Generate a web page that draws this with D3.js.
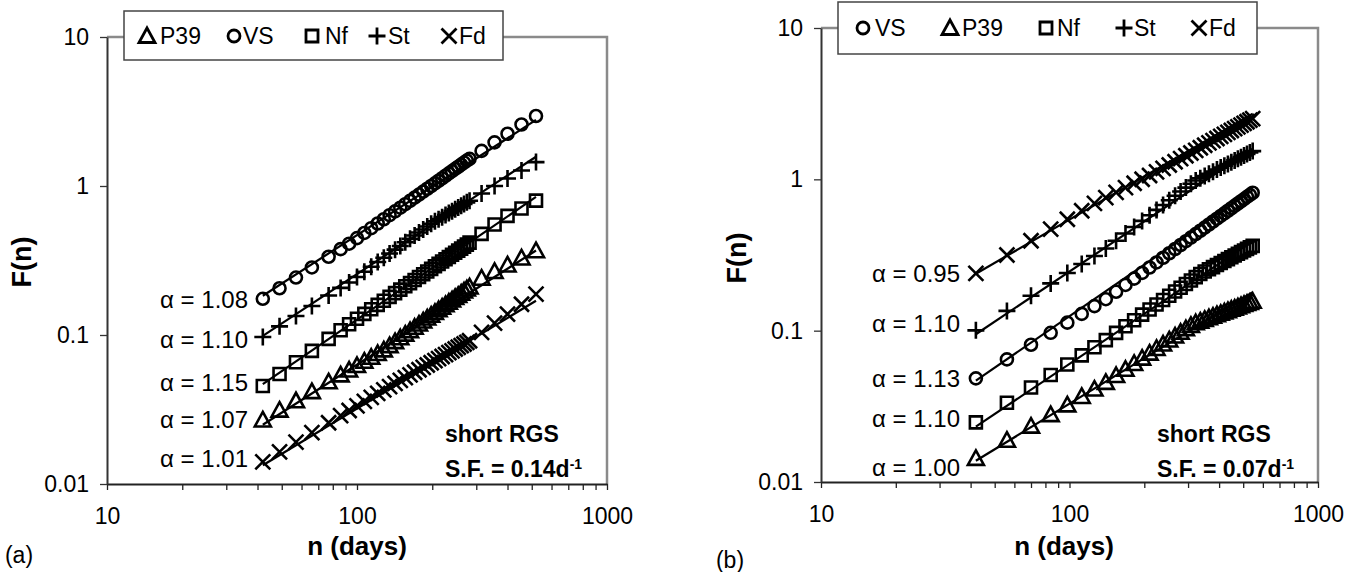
<!DOCTYPE html>
<html>
<head>
<meta charset="utf-8">
<script src="https://cdn.jsdelivr.net/npm/d3@7"></script>
<style>
  html, body { margin: 0; padding: 0; background: #fff; }
  svg { display: block; }
  text { font-family: "Liberation Sans", Arial, Helvetica, sans-serif; fill: #000; }
</style>
</head>
<body>
<svg id="chart" width="1357" height="572"></svg>
<script>
// ---- data: DFA fluctuation function F(n) versus window size n (days) ----

// panel (a): S.F. = 0.14 d^-1
const nA = [42, 49, 57, 66, 77, 86, 93, 100, 107, 114, 121, 128, 135, 142, 149, 156, 163, 170, 177, 184,
  191, 198, 205, 212, 219, 226, 233, 240, 247, 254, 261, 268, 275, 282, 315, 355, 400, 455, 520];
const vsA = [0.175, 0.206, 0.243, 0.284, 0.335, 0.377, 0.410, 0.447, 0.484, 0.521, 0.560, 0.598, 0.637, 0.676,
  0.715, 0.755, 0.795, 0.835, 0.876, 0.917, 0.958, 1.000, 1.042, 1.084, 1.127, 1.171, 1.215, 1.258, 1.303, 1.347,
  1.392, 1.437, 1.479, 1.521, 1.720, 1.963, 2.242, 2.586, 2.95];
const stA = [0.0970, 0.1143, 0.134, 0.1565, 0.184, 0.207, 0.225, 0.245, 0.266, 0.287, 0.309, 0.330, 0.352, 0.374,
  0.396, 0.419, 0.442, 0.465, 0.488, 0.511, 0.535, 0.558, 0.579, 0.599, 0.618, 0.638, 0.658, 0.678, 0.698, 0.717,
  0.737, 0.757, 0.777, 0.797, 0.890, 1.000, 1.122, 1.271, 1.447];
const nfA = [0.0455, 0.0547, 0.0656, 0.0783, 0.0942, 0.1075, 0.1181, 0.1284, 0.1386, 0.1489, 0.1593, 0.1698,
  0.1803, 0.1909, 0.2016, 0.2122, 0.2230, 0.2339, 0.2448, 0.2558, 0.2668, 0.2779, 0.2891, 0.3002, 0.3114, 0.3227,
  0.3341, 0.3454, 0.3568, 0.3682, 0.3797, 0.3916, 0.4040, 0.4166, 0.4770, 0.5516, 0.630, 0.707, 0.798];
const p39A = [0.0269, 0.0313, 0.0362, 0.0417, 0.0485, 0.0540, 0.0582, 0.0624, 0.0667, 0.0709, 0.0751, 0.0795,
  0.0849, 0.0903, 0.0958, 0.1014, 0.1070, 0.1127, 0.1184, 0.1242, 0.1300, 0.1359, 0.1419, 0.1479, 0.1539, 0.1600,
  0.1661, 0.1722, 0.1784, 0.1846, 0.1909, 0.1972, 0.2036, 0.2100, 0.2406, 0.2670, 0.2953, 0.3289, 0.3679];
const fdA = [0.01406, 0.01641, 0.01909, 0.02210, 0.02578, 0.02879, 0.03113, 0.03348, 0.03583, 0.03818, 0.04053,
  0.04284, 0.04508, 0.04733, 0.04956, 0.05179, 0.05403, 0.05624, 0.05847, 0.06069, 0.06289, 0.06511, 0.06731,
  0.06950, 0.07170, 0.07391, 0.07612, 0.07834, 0.08054, 0.08272, 0.08490, 0.08707, 0.08926, 0.09144, 0.1042,
  0.1200, 0.1381, 0.1608, 0.1883];
// fitted scaling exponents and fit value at n = 100, order VS, St, Nf, P39, Fd
const alphaA = [1.08, 1.10, 1.15, 1.07, 1.01];
const fitAt100A = [0.468, 0.2564, 0.1268, 0.0632, 0.0321];

// panel (b): S.F. = 0.07 d^-1
const nB = [42, 56, 70, 84, 98, 112, 126, 140, 154, 168, 182, 196, 210, 224, 238, 252, 266, 280, 294, 308, 322,
  336, 350, 364, 378, 392, 406, 420, 434, 448, 462, 476, 490, 504, 518, 532, 546];
const vsB = [0.0484, 0.0646, 0.0807, 0.0968, 0.1130, 0.1291, 0.1453, 0.1614, 0.1808, 0.2005, 0.2206, 0.2409,
  0.2616, 0.2823, 0.3034, 0.3248, 0.3464, 0.3682, 0.3901, 0.4124, 0.4347, 0.4572, 0.4801, 0.5031, 0.5262, 0.5495,
  0.5729, 0.5964, 0.6203, 0.6441, 0.6680, 0.6923, 0.7166, 0.7409, 0.7656, 0.7903, 0.8151];
const stB = [0.1005, 0.1351, 0.1701, 0.2052, 0.2404, 0.2759, 0.3115, 0.3489, 0.3930, 0.4383, 0.4845, 0.5314,
  0.5793, 0.6280, 0.6774, 0.7275, 0.7785, 0.8302, 0.8820, 0.9352, 0.9813, 1.0172, 1.053, 1.089, 1.124, 1.160,
  1.195, 1.230, 1.264, 1.299, 1.334, 1.368, 1.402, 1.436, 1.470, 1.504, 1.537];
const nfB = [0.02477, 0.03342, 0.04214, 0.05094, 0.05978, 0.06871, 0.07767, 0.08666, 0.09669, 0.1069, 0.1172,
  0.1276, 0.1381, 0.1488, 0.1595, 0.1703, 0.1813, 0.1923, 0.2033, 0.2146, 0.2258, 0.2371, 0.2458, 0.2544, 0.2630,
  0.2716, 0.2800, 0.2885, 0.2970, 0.3055, 0.3138, 0.3221, 0.3305, 0.3388, 0.3470, 0.3552, 0.3635];
const p39B = [0.01432, 0.01888, 0.02339, 0.02787, 0.03231, 0.03673, 0.04112, 0.04550, 0.05051, 0.05559, 0.06072,
  0.06590, 0.07107, 0.07630, 0.08156, 0.08685, 0.09220, 0.09754, 0.1029, 0.1083, 0.1127, 0.1157, 0.1187, 0.1217,
  0.1245, 0.1274, 0.1302, 0.1329, 0.1356, 0.1384, 0.1410, 0.1436, 0.1462, 0.1488, 0.1514, 0.1538, 0.1564];
const fdB = [0.2393, 0.3164, 0.3929, 0.4690, 0.5445, 0.6197, 0.6940, 0.7577, 0.8198, 0.8812, 0.9419, 1.0016,
  1.0605, 1.119, 1.180, 1.243, 1.306, 1.369, 1.431, 1.493, 1.555, 1.617, 1.679, 1.740, 1.801, 1.862, 1.922,
  1.983, 2.043, 2.103, 2.163, 2.223, 2.283, 2.343, 2.402, 2.460, 2.520];
const alphaB = [1.13, 1.10, 1.10, 1.00, 0.95];
const fitAt100B = [0.1247, 0.246, 0.0603, 0.0329, 0.542];

// axes
const seriesNames = ["VS", "St", "Nf", "P39", "Fd"];
const legendOrderA = ["P39", "VS", "Nf", "St", "Fd"];
const legendOrderB = ["VS", "P39", "Nf", "St", "Fd"];
const xMajorTicks = [10, 100, 1000];
const xMinorTicks = [20, 30, 40, 50, 60, 70, 80, 90, 200, 300, 400, 500, 600, 700, 800, 900];
const yTicks = [0.01, 0.1, 1, 10];
const yTickLabels = ["0.01", "0.1", "1", "10"];
const noteLines = ["short RGS", "S.F. = "];
const sfA = "0.14d", sfB = "0.07d";

// ---- layout ----
const FONT = '"Liberation Sans", Arial, Helvetica, sans-serif';
const panels = [
  {
    tag: "(a)", n: nA, values: [vsA, stA, nfA, p39A, fdA], alpha: alphaA, fit: fitAt100A, sf: sfA,
    legendOrder: legendOrderA,
    x0: 107, x1: 607, y0: 484, y1: 37,
    legendBox: [124, 11, 379, 49], legendMarkX: [147, 234, 312, 377, 449], legendTextX: [160, 243, 325, 388, 459], legendY: 36,
    labelRight: 248, labelDy: [1, 3, -3, 0, -3],
    yTitle: [22, 262], xTitle: [357, 546], tagPos: [19, 555], noteX: 445, noteY: [434, 469]
  },
  {
    tag: "(b)", n: nB, values: [vsB, stB, nfB, p39B, fdB], alpha: alphaB, fit: fitAt100B, sf: sfB,
    legendOrder: legendOrderB,
    x0: 821, x1: 1318, y0: 482, y1: 28,
    legendBox: [838, 2, 419, 52], legendMarkX: [863, 950, 1046, 1124, 1199], legendTextX: [875, 962, 1057, 1134, 1209], legendY: 28,
    labelRight: 960, labelDy: [0, -7, -4, 9, 0],
    yTitle: [737, 258], xTitle: [1064, 546], tagPos: [730, 560], noteX: 1157, noteY: [434, 469]
  }
];

// marker shapes, centred on (0,0)
const markerPath = {
  VS: null,
  St: "M-8.5,0H8.5M0,-8.5V8.5",
  Nf: "M-6,-6H6V6H-6Z",
  P39: "M0,-8L8,6.5L-8,6.5Z",
  Fd: "M-7.5,-7.5L7.5,7.5M7.5,-7.5L-7.5,7.5"
};

function drawMarker(g, name, cx, cy, sw) {
  if (name === "VS") {
    g.append("circle").attr("cx", cx).attr("cy", cy).attr("r", 6)
      .attr("fill", "none").attr("stroke", "#000").attr("stroke-width", sw);
  } else {
    g.append("path").attr("d", markerPath[name]).attr("transform", `translate(${cx},${cy})`)
      .attr("fill", "none").attr("stroke", "#000").attr("stroke-width", sw)
      .attr("stroke-linejoin", "miter");
  }
}

const svg = d3.select("#chart");
svg.append("rect").attr("width", 1357).attr("height", 572).attr("fill", "#fff");

panels.forEach(p => {
  const x = d3.scaleLog().domain([10, 1000]).range([p.x0, p.x1]);
  const y = d3.scaleLog().domain([0.01, 10]).range([p.y0, p.y1]);
  const g = svg.append("g");

  // plot frame (top and right)
  g.append("path")
    .attr("d", `M${p.x0},${p.y1}H${p.x1}V${p.y0}`)
    .attr("fill", "none").attr("stroke", "#8a8a8a").attr("stroke-width", 2.5);

  // x axis with log minor ticks
  const xAxis = d3.axisBottom(x)
    .tickValues(xMajorTicks.concat(xMinorTicks))
    .tickSize(6).tickSizeOuter(0).tickPadding(18)
    .tickFormat(d => xMajorTicks.includes(d) ? String(d) : "");
  const gx = g.append("g").attr("transform", `translate(0,${p.y0})`).call(xAxis);
  gx.select(".domain").attr("stroke", "#222").attr("stroke-width", 2);
  gx.selectAll(".tick line").attr("stroke", "#222").attr("stroke-width", 1.3);
  gx.selectAll(".tick text").attr("font-family", FONT).attr("font-size", 23).attr("fill", "#000");

  // y axis
  const yAxis = d3.axisLeft(y)
    .tickValues(yTicks)
    .tickSize(7).tickSizeOuter(0).tickPadding(11)
    .tickFormat((d, i) => yTickLabels[i]);
  const gy = g.append("g").attr("transform", `translate(${p.x0},0)`).call(yAxis);
  gy.select(".domain").attr("stroke", "#333").attr("stroke-width", 2);
  gy.selectAll(".tick line").attr("stroke", "#333").attr("stroke-width", 1.3);
  gy.selectAll(".tick text").attr("font-family", FONT).attr("font-size", 23).attr("fill", "#000");

  const nFirst = p.n[0], nLast = p.n[p.n.length - 1];
  const lines = g.append("g");
  const marks = g.append("g");

  seriesNames.forEach((name, si) => {
    const vals = p.values[si];
    // power-law fit F = c * n^alpha, anchored at n = 100
    const a = p.alpha[si], c100 = p.fit[si];
    const fitF = n => c100 * Math.pow(n / 100, a);
    lines.append("line")
      .attr("x1", x(nFirst)).attr("y1", y(fitF(nFirst)))
      .attr("x2", x(nLast)).attr("y2", y(fitF(nLast)))
      .attr("stroke", "#000").attr("stroke-width", 2.2);

    p.n.forEach((n, i) => drawMarker(marks, name, x(n), y(vals[i]), 2.6));

    // exponent label next to the first point
    g.append("text")
      .attr("x", p.labelRight)
      .attr("y", y(vals[0]) + p.labelDy[si])
      .attr("dy", "0.35em")
      .attr("text-anchor", "end")
      .attr("font-size", 24)
      .text(`\u03B1 = ${a.toFixed(2)}`);
  });

  // legend
  const [lx, ly, lw, lh] = p.legendBox;
  const lg = g.append("g");
  lg.append("rect").attr("x", lx).attr("y", ly).attr("width", lw).attr("height", lh)
    .attr("fill", "#fff").attr("stroke", "#444").attr("stroke-width", 1.5);
  p.legendOrder.forEach((name, i) => {
    drawMarker(lg, name, p.legendMarkX[i], p.legendY, 2.8);
    lg.append("text").attr("x", p.legendTextX[i]).attr("y", p.legendY)
      .attr("dy", "0.36em").attr("font-size", 23).text(name);
  });

  // annotation
  g.append("text").attr("x", p.noteX).attr("y", p.noteY[0]).attr("dy", "0.35em")
    .attr("font-size", 23).attr("font-weight", "bold").text(noteLines[0]);
  const sf = g.append("text").attr("x", p.noteX).attr("y", p.noteY[1]).attr("dy", "0.35em")
    .attr("font-size", 23).attr("font-weight", "bold");
  sf.append("tspan").text(noteLines[1] + p.sf);
  sf.append("tspan").attr("dy", "-0.55em").attr("font-size", 14).text("-1");

  // axis titles
  g.append("text")
    .attr("transform", `translate(${p.yTitle[0]},${p.yTitle[1]}) rotate(-90)`)
    .attr("dy", "0.35em").attr("text-anchor", "middle")
    .attr("font-size", 27).attr("font-weight", "bold").text("F(n)");
  g.append("text").attr("x", p.xTitle[0]).attr("y", p.xTitle[1]).attr("dy", "0.35em")
    .attr("text-anchor", "middle").attr("font-size", 26).attr("font-weight", "bold").text("n (days)");

  // panel tag
  g.append("text").attr("x", p.tagPos[0]).attr("y", p.tagPos[1]).attr("dy", "0.35em")
    .attr("text-anchor", "middle").attr("font-size", 23).text(p.tag);
});
</script>
</body>
</html>
